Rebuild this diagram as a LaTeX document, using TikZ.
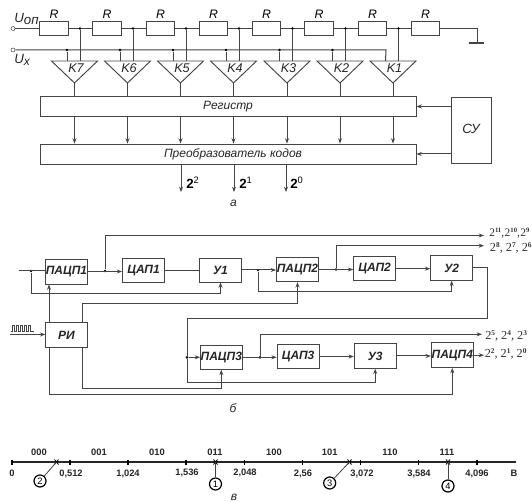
\documentclass[tikz,border=0pt]{standalone}
\usepackage{fontspec}
\setmainfont{Liberation Sans}
\newfontfamily\serfont{Liberation Serif}
\usetikzlibrary{arrows.meta}
\definecolor{wire}{HTML}{444444}
\newcommand{\powtwo}[1]{2\raisebox{2.8pt}{\fontsize{5.5}{6}\selectfont\bfseries #1}}
\newcommand{\powtight}[1]{2\raisebox{2.6pt}{\fontsize{5}{6}\selectfont\bfseries #1}}
\tikzset{
  sized/.style 2 args={minimum width=#1*0.75pt,minimum height=#2*0.75pt},
  wr/.style={draw=wire,line width=0.75pt},
  arr/.style={wr,-{Stealth[length=4pt,width=3pt]}},
  blockbox/.style={draw=wire,line width=0.7pt,inner sep=0pt},
  res/.style={blockbox,sized={28.5}{13.5}},
  dot/.style={circle,fill=black,inner sep=0pt,minimum size=2.2pt},
  ital/.style={font=\fontsize{9}{10}\selectfont\itshape,inner sep=0pt,text=black!85},
  lab/.style={font=\fontsize{9.2}{10}\selectfont\itshape,inner sep=0pt},
  expo/.style={font=\fontsize{9.2}{10}\selectfont\serfont,inner sep=0pt,anchor=west,text=black!80},
  axlab/.style={font=\fontsize{7}{8}\selectfont\bfseries,inner sep=0pt,text=black!85},
  numc/.style={circle,draw=black,line width=0.9pt,inner sep=0pt,minimum size=9pt,font=\fontsize{7}{8}\selectfont},
}
\begin{document}
\begin{tikzpicture}[x=0.75pt,y=-0.75pt]
\useasboundingbox (0,0) rectangle (532,502);
\fill[white] (0,0) rectangle (532,502);

% ---------- a: resistor ladder
\coordinate (top) at (13,28.5);
\coordinate (ux) at (13,50);
\node[circle,draw=wire,inner sep=0pt,minimum size=3pt] (topterm) at (top) {};
\node[circle,draw=wire,inner sep=0pt,minimum size=3pt] (uxterm) at (ux) {};
\node[ital,anchor=west,font=\fontsize{10}{11}\selectfont\itshape] (uop) at (14,19) {U\raisebox{-1.5pt}{оп}};
\node[ital,anchor=west,font=\fontsize{10}{11}\selectfont\itshape] (uxl) at (14,60) {U\raisebox{-1.5pt}{\fontsize{9}{10}\selectfont x}};
\foreach \i/\x in {1/54,2/107,3/160.5,4/213.5,5/266.5,6/319,7/372.5,8/425.5}{
  \node[res] (r\i) at (\x,28.5) {};
  \node[lab] (rl\i) at (\x,14.5) {R};
}
\draw[wr] (topterm) -- (r1.west);
\foreach \a/\b in {1/2,2/3,3/4,4/5,5/6,6/7,7/8}
  \draw[wr] (r\a.east) -- (r\b.west);
\coordinate (gnd) at (477,43);
\coordinate (gl) at (469,43);
\coordinate (gr) at (484,43);
\draw[wr] (r8.east) -| (gnd);
\draw[draw=wire,line width=1.1pt] (gl) -- (gr);

% comparators
\foreach \n/\ax in {7/74.5,6/127.5,5/180.5,4/233.5,3/287,2/340,1/393}{
  \coordinate (ap\n) at (\ax,83);
  \coordinate (tl\n) at (\ax-23,61);
  \coordinate (tr\n) at (\ax+23,61);
  \coordinate (kl\n) at (\ax-7.5,61);
  \coordinate (kr\n) at (\ax+5.5,61);
  \draw[blockbox] (tl\n) -- (tr\n) -- (ap\n) -- cycle;
  \node[ital,font=\fontsize{9.5}{10}\selectfont\itshape] (kn\n) at (\ax+1.5,68.5) {K\n};
  \node[dot] (jt\n) at (\ax+5.5,28.5) {};
  \draw[wr] (jt\n) -- (kr\n);
}
\coordinate (uxend) at (386,50);
\draw[wr] (uxterm) -- (uxend) -- (kl1);
\foreach \n/\ax in {7/74.5,6/127.5,5/180.5,4/233.5,3/287,2/340}{
  \node[dot] (jx\n) at (\ax-7.5,50) {};
  \draw[wr] (jx\n) -- (kl\n);
}
\node[blockbox,sized={376}{19.5}] (reg) at (228,106.5) {};
\node[ital] (regt) at (228,106.5) {Регистр};
\node[blockbox,sized={376}{20}] (conv) at (228,154) {};
\node[ital] (convt) at (233,154) {Преобразователь кодов};
\node[blockbox,sized={40}{66}] (su) at (471,130) {};
\node[ital,font=\fontsize{10}{11}\selectfont\itshape] (sut) at (471,129) {СУ};
\foreach \n in {7,6,5,4,3,2,1}{
  \draw[wr] (ap\n) -- (reg.north -| ap\n);
  \draw[arr] (reg.south -| ap\n) -- (conv.north -| ap\n);
}
\draw[arr] (su.west |- reg.center) -- (reg.east);
\draw[arr] (su.west |- conv.center) -- (conv.east);
\coordinate (o2) at (181,192);
\coordinate (o1) at (234,192);
\coordinate (o0) at (286,192);
\foreach \c in {o2,o1,o0} \draw[arr] (conv.south -| \c) -- (\c);
\node[anchor=west,inner sep=0pt,font=\fontsize{10}{11}\selectfont\bfseries] (t2) at (186,183) {2\raisebox{3.5pt}{\fontsize{7}{8}\selectfont\mdseries 2}};
\node[anchor=west,inner sep=0pt,font=\fontsize{10}{11}\selectfont\bfseries] (t1) at (239,183) {2\raisebox{3.5pt}{\fontsize{7}{8}\selectfont\mdseries 1}};
\node[anchor=west,inner sep=0pt,font=\fontsize{10}{11}\selectfont\bfseries] (t0) at (290,183) {2\raisebox{3.5pt}{\fontsize{7}{8}\selectfont\mdseries 0}};
\node[ital] (capa) at (233.5,203) {а};

% ---------- b
\node[blockbox,sized={41.5}{25}] (p1) at (66.5,271.5) {};
\node[blockbox,sized={42}{24.5}] (d1) at (143.5,270.7) {};
\node[blockbox,sized={42}{24}] (u1) at (220.5,270) {};
\node[blockbox,sized={42}{24.5}] (p2) at (297.5,269.5) {};
\node[blockbox,sized={42}{24.5}] (d2) at (374.7,268.7) {};
\node[blockbox,sized={42}{24.5}] (u2) at (451.7,268) {};
\node[blockbox,sized={41.5}{24.5}] (ri) at (66.5,335) {};
\node[blockbox,sized={41.5}{24}] (p3) at (221.3,357.3) {};
\node[blockbox,sized={42}{24.5}] (d3) at (298.2,356.5) {};
\node[blockbox,sized={42}{24.5}] (u3) at (375.2,356) {};
\node[blockbox,sized={42}{24.5}] (p4) at (452.3,355.2) {};
\foreach \b/\t in {p1/ПАЦП1,d1/ЦАП1,u1/У1,p2/ПАЦП2,d2/ЦАП2,u2/У2,ri/РИ,p3/ПАЦП3,d3/ЦАП3,u3/У3,p4/ПАЦП4}
  \node[ital,font=\fontsize{9}{10}\selectfont\bfseries\itshape,text=black!85] (t\b) at (\b) {\t};

\coordinate (in1) at (19,271);
\node[dot] (j1) at (31,271) {};
\draw[wr] (in1) -- (p1.west |- in1);
\draw[arr] (j1) -- ++(0,23) -| (u1.south);
% first row
\node[dot] (j2) at (105,271) {};
\draw[arr] (p1.east) -- (d1.west |- p1.east);
\coordinate (o11) at (484,235.5);
\draw[arr] (j2) |- (o11);
\draw[wr] (d1.east) -- (u1.west |- d1.east);
\node[dot] (j3) at (258,270) {};
\draw[arr] (u1.east) -- (p2.west |- u1.east);
\draw[arr] (j3) -- ++(0,21.7) -| (u2.south);
\node[dot] (j4) at (336,269.5) {};
\draw[arr] (p2.east) -- (d2.west |- p2.east);
\coordinate (o8) at (484,245.7);
\draw[arr] (j4) |- (o8);
\draw[arr] (d2.east) -- (u2.west |- d2.east);
% y2 feedback
\coordinate (fbr) at (487,318.7);
\coordinate (fbl) at (187,318.7);
\node[dot] (j5) at (187,357.3) {};
\draw[wr] (u2.east) -| (fbr) -- (fbl) -- (j5);
\draw[arr] (j5) -- (p3.west);
\draw[arr] (j5) -- ++(0,24.7) -| (u3.south);
% second row
\node[dot] (j6) at (260,357.3) {};
\draw[arr] (p3.east) -- (d3.west |- p3.east);
\coordinate (o5) at (482,334.3);
\draw[arr] (j6) |- (o5);
\draw[arr] (d3.east) -- (u3.west |- d3.east);
\draw[arr] (u3.east) -- (p4.west |- u3.east);
\coordinate (o2b) at (484,355.2);
\draw[arr] (p4.east) -- (o2b);
% RI
\coordinate (xa) at (49,0);
\coordinate (xb) at (82,0);
\draw[arr] (xa |- ri.north) -- (xa |- p1.south);
\draw[arr] (xb |- ri.north) -- ++(0,-18.7) -| (p2.south);
\draw[arr] (xa |- ri.south) -- ++(0,47) -| (p4.south);
\draw[arr] (xb |- ri.south) -- ++(0,40.3) -| (p3.south);
\coordinate (rin) at (10,334.5);
\draw[arr] (rin) -- (ri.west |- rin);
\draw[draw=wire,line width=0.6pt] (11,331.5) -- (12.5,331.5) -- (12.5,325.5) -- (14.5,325.5) -- (14.5,331.5) -- (16.5,331.5) -- (16.5,325.5) -- (18.5,325.5) -- (18.5,331.5) -- (20.5,331.5) -- (20.5,325.5) -- (22.5,325.5) -- (22.5,331.5) -- (24.5,331.5) -- (24.5,325.5) -- (26.5,325.5) -- (26.5,331.5) -- (28.5,331.5) -- (28.5,325.5) -- (30.5,325.5) -- (30.5,331.5) -- (33.5,331.5);
\node[expo,font=\fontsize{8.6}{10}\selectfont\serfont] (e1) at (489,233) {\powtight{11},\kern0.4pt\powtight{10},\kern0.4pt\powtight{9}};
\node[expo] (e2) at (489.7,248) {\powtwo{8}, \powtwo{7}, \powtwo{6}};
\node[expo] (e3) at (485,336) {\powtwo{5}, \powtwo{4}, \powtwo{3}};
\node[expo] (e4) at (484.5,354) {\powtwo{2}, \powtwo{1}, \powtwo{0}};
\node[ital] (capb) at (233,408) {б};

% ---------- c: axis
\coordinate (a0) at (12,462);
\coordinate (a1) at (516,462);
\draw[draw=black!85,line width=1.1pt] (a0) -- (a1);
\foreach \x in {12,70,128,186,244.3,302.7,360.7,418.7,477}
  \draw[draw=black,line width=0.9pt] (\x,459.5) -- (\x,464.5);
\foreach \n/\x in {a/56.5,b/215.5,c/349.5,d/448}{
  \coordinate (cr\n) at (\x,462);
  \draw[draw=black,line width=0.6pt] (\x-2,459.5) -- (\x+2,464.5) (\x+2,459.5) -- (\x-2,464.5);
}
\node[axlab] (n0) at (12,473) {0};
\node[axlab] (n1) at (71,473.5) {0,512};
\node[axlab] (n2) at (128,473.5) {1,024};
\node[axlab] (n3) at (187,472.5) {1,536};
\node[axlab] (n4) at (245,472.5) {2,048};
\node[axlab] (n5) at (303,473.5) {2,56};
\node[axlab] (n6) at (362,473.5) {3,072};
\node[axlab] (n7) at (419,474) {3,584};
\node[axlab] (n8) at (477,474) {4,096};
\node[axlab] (nb) at (514,473.5) {В};
\node[axlab] (b0) at (39,452) {000};
\node[axlab] (b1) at (99,452) {001};
\node[axlab] (b2) at (157,452) {010};
\node[axlab] (b3) at (215,452.5) {011};
\node[axlab] (b4) at (274,452) {100};
\node[axlab] (b5) at (329.7,452) {101};
\node[axlab] (b6) at (390,452) {110};
\node[axlab] (b7) at (447,452) {111};
\node[numc] (ca) at (40,481) {2};
\node[numc] (cb) at (215.5,484) {1};
\node[numc] (cc) at (329.7,483) {3};
\node[numc] (cd) at (448,486) {4};
\foreach \n in {a,b,c,d} \draw[draw=wire,line width=0.6pt] (c\n) -- (cr\n);
\node[ital] (capc) at (234,497) {в};
\end{tikzpicture}
\end{document}
